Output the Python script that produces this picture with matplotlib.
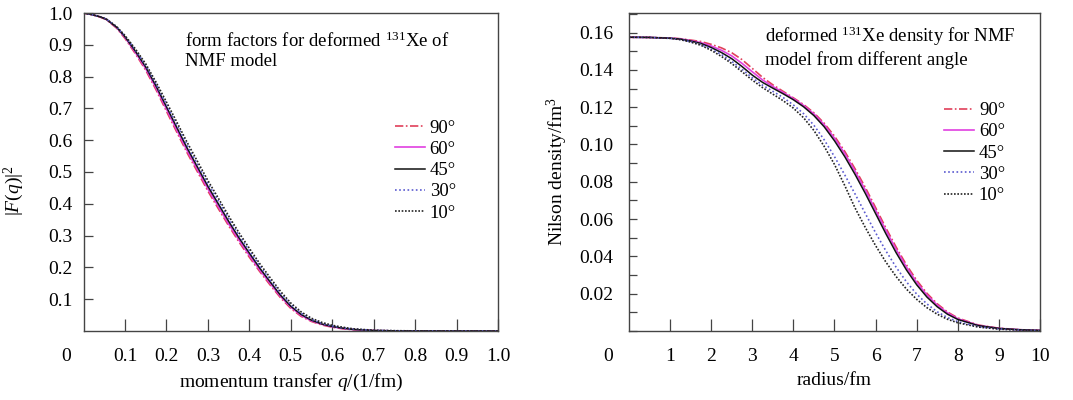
import matplotlib
matplotlib.use("Agg")
import matplotlib.pyplot as plt
from matplotlib.ticker import MultipleLocator

plt.rcParams["font.family"] = ["Liberation Serif", "DejaVu Serif"]
plt.rcParams["mathtext.fontset"] = "custom"
plt.rcParams["mathtext.rm"] = "Liberation Serif"
plt.rcParams["mathtext.it"] = "Liberation Serif:italic"

ANGLES = ["90°", "60°", "45°", "30°", "10°"]

# left panel: |F(q)|^2 vs q
q = [0, 0.02, 0.04, 0.055, 0.08, 0.1, 0.125, 0.15, 0.175, 0.2, 0.225, 0.25, 0.275,
     0.3, 0.325, 0.35, 0.375, 0.4, 0.425, 0.45, 0.475, 0.5, 0.525, 0.55, 0.575,
     0.6, 0.625, 0.65, 0.7, 0.75, 0.8, 0.9, 1.0]
ff_90 = [1.000, 0.995, 0.987, 0.979, 0.952, 0.920, 0.872, 0.820, 0.758, 0.691, 0.625,
         0.560, 0.500, 0.440, 0.385, 0.331, 0.280, 0.232, 0.187, 0.145, 0.105, 0.071,
         0.046, 0.030, 0.019, 0.012, 0.007, 0.004, 0.0011, 0.0003, 0.0001, 0.0, 0.0]
ff_60 = [1.000, 0.995, 0.988, 0.980, 0.954, 0.923, 0.876, 0.825, 0.764, 0.698, 0.632,
         0.567, 0.507, 0.447, 0.392, 0.337, 0.286, 0.238, 0.192, 0.150, 0.109, 0.075,
         0.049, 0.032, 0.021, 0.013, 0.008, 0.0045, 0.0013, 0.0004, 0.0002, 0.0001, 0.0]
ff_45 = [1.000, 0.995, 0.988, 0.980, 0.955, 0.925, 0.880, 0.830, 0.770, 0.705, 0.640,
         0.575, 0.515, 0.455, 0.400, 0.345, 0.293, 0.245, 0.198, 0.155, 0.113, 0.078,
         0.052, 0.034, 0.022, 0.014, 0.009, 0.005, 0.0015, 0.0005, 0.0002, 0.0001, 0.0]
ff_30 = [1.000, 0.995, 0.988, 0.981, 0.956, 0.927, 0.884, 0.835, 0.776, 0.712, 0.648,
         0.584, 0.524, 0.464, 0.409, 0.354, 0.301, 0.252, 0.205, 0.161, 0.119, 0.083,
         0.056, 0.037, 0.024, 0.016, 0.010, 0.006, 0.002, 0.0007, 0.0003, 0.0001, 0.0]
ff_10 = [1.000, 0.995, 0.988, 0.981, 0.957, 0.929, 0.887, 0.840, 0.782, 0.720, 0.657,
         0.593, 0.533, 0.473, 0.418, 0.362, 0.309, 0.260, 0.212, 0.168, 0.125, 0.088,
         0.060, 0.040, 0.027, 0.018, 0.012, 0.007, 0.0025, 0.001, 0.0004, 0.0002, 0.0]

# right panel: Nilson density vs radius
r = [0, 0.5, 1.0, 1.25, 1.5, 1.75, 2.0, 2.25, 2.5, 2.75, 3.0, 3.25, 3.5, 3.75, 4.0,
     4.25, 4.5, 4.75, 5.0, 5.25, 5.5, 5.75, 6.0, 6.25, 6.5, 6.75, 7.0, 7.25, 7.5,
     7.75, 8.0, 8.5, 9.0, 9.5, 10.0]
rho_90 = [0.1575, 0.1574, 0.1571, 0.1567, 0.1560, 0.1552, 0.1537, 0.1518, 0.1492,
          0.1455, 0.1408, 0.1360, 0.1320, 0.1285, 0.1250, 0.1214, 0.1170, 0.1114,
          0.1045, 0.0963, 0.0870, 0.0770, 0.0662, 0.0553, 0.0450, 0.0355, 0.0272,
          0.0202, 0.0146, 0.0102, 0.0070, 0.0032, 0.0015, 0.0007, 0.0003]
rho_60 = [0.1575, 0.1574, 0.1570, 0.1566, 0.1557, 0.1546, 0.1528, 0.1505, 0.1475,
          0.1435, 0.1390, 0.1346, 0.1311, 0.1279, 0.1246, 0.1209, 0.1164, 0.1106,
          0.1034, 0.0951, 0.0857, 0.0756, 0.0648, 0.0540, 0.0437, 0.0343, 0.0261,
          0.0193, 0.0139, 0.0097, 0.0066, 0.0030, 0.0014, 0.0007, 0.0003]
rho_45 = [0.1575, 0.1574, 0.1570, 0.1565, 0.1555, 0.1542, 0.1520, 0.1493, 0.1460,
          0.1418, 0.1372, 0.1333, 0.1302, 0.1272, 0.1240, 0.1202, 0.1155, 0.1095,
          0.1020, 0.0935, 0.0840, 0.0738, 0.0630, 0.0522, 0.0420, 0.0328, 0.0248,
          0.0182, 0.0130, 0.0090, 0.0062, 0.0029, 0.0014, 0.0007, 0.0003]
rho_30 = [0.1575, 0.1574, 0.1569, 0.1563, 0.1551, 0.1536, 0.1512, 0.1482, 0.1446,
          0.1403, 0.1358, 0.1318, 0.1285, 0.1252, 0.1212, 0.1165, 0.1103, 0.1025,
          0.0935, 0.0837, 0.0735, 0.0630, 0.0527, 0.0430, 0.0342, 0.0264, 0.0198,
          0.0145, 0.0103, 0.0072, 0.0050, 0.0023, 0.0011, 0.0005, 0.0002]
rho_10 = [0.1575, 0.1574, 0.1569, 0.1562, 0.1549, 0.1532, 0.1505, 0.1472, 0.1434,
          0.1390, 0.1345, 0.1305, 0.1270, 0.1235, 0.1195, 0.1143, 0.1075, 0.0990,
          0.0893, 0.0780, 0.0660, 0.0555, 0.0458, 0.0370, 0.0292, 0.0225, 0.0170,
          0.0125, 0.0090, 0.0063, 0.0044, 0.0021, 0.0010, 0.0005, 0.0002]

STYLES = [
    dict(color="#e0405a", ls=(0, (5, 1.5, 1, 1.5)), lw=1.2),
    dict(color="#e040e0", ls="-", lw=1.2),
    dict(color="#111111", ls="-", lw=1.1),
    dict(color="#5a5ad0", ls=(0, (1, 1.5)), lw=1.2),
    dict(color="#222222", ls=(0, (1, 1)), lw=1.2),
]

FS = 14      # tick labels, axis labels
FS_TXT = 13.5  # annotations, legend


def style_axes(ax, ytick_len, ypad):
    for s in ax.spines.values():
        s.set_color("#444444")
        s.set_linewidth(1.0)
    ax.tick_params(axis="x", direction="in", length=8.5, width=0.9, color="#444444",
                   pad=12, labelsize=FS, top=False)
    ax.tick_params(axis="y", which="both", direction="in", length=ytick_len, width=0.9,
                   color="#444444", pad=ypad, labelsize=FS, right=False)


def add_legend(ax, anchor):
    leg = ax.legend(loc="upper right", bbox_to_anchor=anchor, frameon=False,
                    fontsize=FS_TXT, handlelength=1.6, handletextpad=0.25,
                    labelspacing=0.22, borderpad=0, borderaxespad=0)
    return leg


fig = plt.figure(figsize=(10.73, 4.0), dpi=100)
ax1 = fig.add_axes([0.0779, 0.1725, 0.3862, 0.795])
ax2 = fig.add_axes([0.5862, 0.1725, 0.3830, 0.795])

# left panel
for ys, lab, st in zip([ff_90, ff_60, ff_45, ff_30, ff_10], ANGLES, STYLES):
    ax1.plot(q, ys, label=lab, **st)
ax1.set_xlim(0, 1.0)
ax1.set_ylim(0, 1.0)
ax1.set_xticks([0.1, 0.2, 0.3, 0.4, 0.5, 0.6, 0.7, 0.8, 0.9, 1.0])
ax1.set_xticklabels(["0.1", "0.2", "0.3", "0.4", "0.5", "0.6", "0.7", "0.8", "0.9", "1.0"])
ax1.set_yticks([0.1, 0.2, 0.3, 0.4, 0.5, 0.6, 0.7, 0.8, 0.9, 1.0])
ax1.set_yticklabels(["0.1", "0.2", "0.3", "0.4", "0.5", "0.6", "0.7", "0.8", "0.9", "1.0"])
style_axes(ax1, 6.5, 8)
ax1.text(-0.0425, -0.079, "0", transform=ax1.transAxes, fontsize=FS, ha="center", va="center")
ax1.set_xlabel("momentum transfer $q$/(1/fm)", fontsize=FS, labelpad=5)
ax1.set_ylabel("$|F(q)|^2$", fontsize=FS, labelpad=16, y=0.44)
ax1.text(0.245, 0.942, "form factors for deformed $^{131}$Xe of\nNMF model",
         transform=ax1.transAxes, fontsize=FS_TXT, ha="left", va="top", linespacing=1.2)
add_legend(ax1, (0.898, 0.665))

# right panel
for ys, lab, st in zip([rho_90, rho_60, rho_45, rho_30, rho_10], ANGLES, STYLES):
    ax2.plot(r, ys, label=lab, **st)
ax2.set_xlim(0, 10)
ax2.set_ylim(0, 0.1705)
ax2.set_xticks(range(1, 11))
ax2.set_yticks([0.02, 0.04, 0.06, 0.08, 0.10, 0.12, 0.14, 0.16])
ax2.set_yticklabels(["0.02", "0.04", "0.06", "0.08", "0.10", "0.12", "0.14", "0.16"])
ax2.yaxis.set_minor_locator(MultipleLocator(0.01))
style_axes(ax2, 5.5, 11)
ax2.text(-0.051, -0.079, "0", transform=ax2.transAxes, fontsize=FS, ha="center", va="center")
ax2.set_xlabel("radius/fm", fontsize=FS, labelpad=5)
ax2.set_ylabel("Nilson density/fm$^3$", fontsize=FS, labelpad=7)
ax2.text(0.33, 0.962, "deformed $^{131}$Xe density for NMF\nmodel from different angle",
         transform=ax2.transAxes, fontsize=FS_TXT, ha="left", va="top", linespacing=1.2)
add_legend(ax2, (0.915, 0.72))

fig.savefig("out.png", dpi=100, facecolor="white")
